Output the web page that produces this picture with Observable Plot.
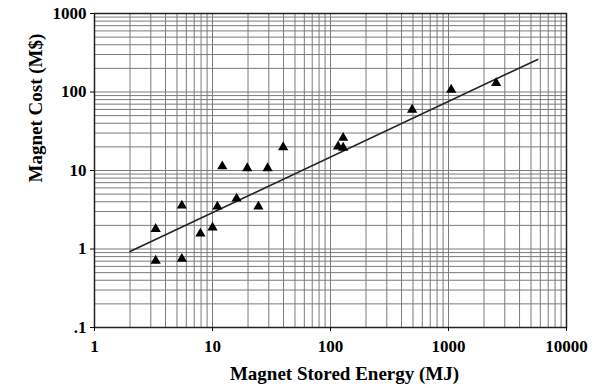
<!DOCTYPE html>
<html>
<head>
<meta charset="utf-8">
<script src="https://cdn.jsdelivr.net/npm/d3@7"></script>
<script src="https://cdn.jsdelivr.net/npm/@observablehq/plot@0.6"></script>
<style>
html,body{margin:0;padding:0;background:#fff;}
svg{display:block;}
</style>
</head>
<body>
<div id="chart"></div>
<script>
// Data
const storedEnergy = [3.3, 3.3, 5.5, 5.5, 7.9, 10, 11, 12.1, 16, 19.7, 24.5, 29.3, 39.7, 116, 128, 128, 492, 1054, 2536];
const magnetCost   = [1.8, 0.71, 3.57, 0.75, 1.57, 1.87, 3.47, 11.3, 4.39, 10.7, 3.47, 10.7, 19.8, 20.2, 19.5, 26.1, 59.5, 107, 130];
const fitX = [2, 5700];
const fitY = [0.93, 260];
const xTickValues = [1, 10, 100, 1000, 10000];
const xTickLabels = ["1", "10", "100", "1000", "10000"];
const yTickValues = [0.1, 1, 10, 100, 1000];
const yTickLabels = [".1", "1", "10", "100", "1000"];
const xTitle = "Magnet Stored Energy (MJ)";
const yTitle = "Magnet Cost (M$)";

const points = storedEnergy.map((e, i) => ({e, c: magnetCost[i]}));
const fit = fitX.map((e, i) => ({e, c: fitY[i]}));
const xGrid = d3.scaleLog().domain([1, 10000]).ticks();
const yGrid = d3.scaleLog().domain([0.1, 1000]).ticks();
const labelFor = (values, labels) => d => {
  const i = values.findIndex(v => Math.abs(Math.log10(v) - Math.log10(d)) < 1e-6);
  return i >= 0 ? labels[i] : "";
};

const font = "'Liberation Serif', 'Times New Roman', serif";

const chart = Plot.plot({
  width: 598,
  height: 388,
  marginLeft: 94,
  marginRight: 32,
  marginTop: 13,
  marginBottom: 61,
  style: {fontFamily: font, fontSize: "17px", fontWeight: "bold", color: "#000", background: "#fff"},
  x: {type: "log", domain: [1, 10000]},
  y: {type: "log", domain: [0.1, 1000]},
  marks: [
    Plot.ruleX(xGrid, {stroke: "#7a7a7a", strokeWidth: 1}),
    Plot.ruleY(yGrid, {stroke: "#7a7a7a", strokeWidth: 1}),
    Plot.frame({stroke: "#222", strokeWidth: 1.5}),
    Plot.axisX({ticks: xTickValues, tickFormat: labelFor(xTickValues, xTickLabels), tickSize: 4, tickPadding: 8, label: null, fontSize: 17, fontWeight: "bold"}),
    Plot.axisY({ticks: yTickValues, tickFormat: labelFor(yTickValues, yTickLabels), tickSize: 4, tickPadding: 4, label: null, fontSize: 17, fontWeight: "bold"}),
    Plot.line(fit, {x: "e", y: "c", stroke: "#222", strokeWidth: 1.6}),
    Plot.dot(points, {x: "e", y: "c", symbol: "triangle", fill: "#000", stroke: "none", r: 3.8}),
    Plot.text([xTitle], {frameAnchor: "bottom", dx: 14, dy: 52, text: d => d, fontSize: 19, fontWeight: "bold", lineAnchor: "bottom"}),
    Plot.text([yTitle], {frameAnchor: "left", dx: -59, dy: 12, rotate: -90, text: d => d, fontSize: 19, fontWeight: "bold"})
  ]
});
document.getElementById("chart").appendChild(chart);
</script>
</body>
</html>
